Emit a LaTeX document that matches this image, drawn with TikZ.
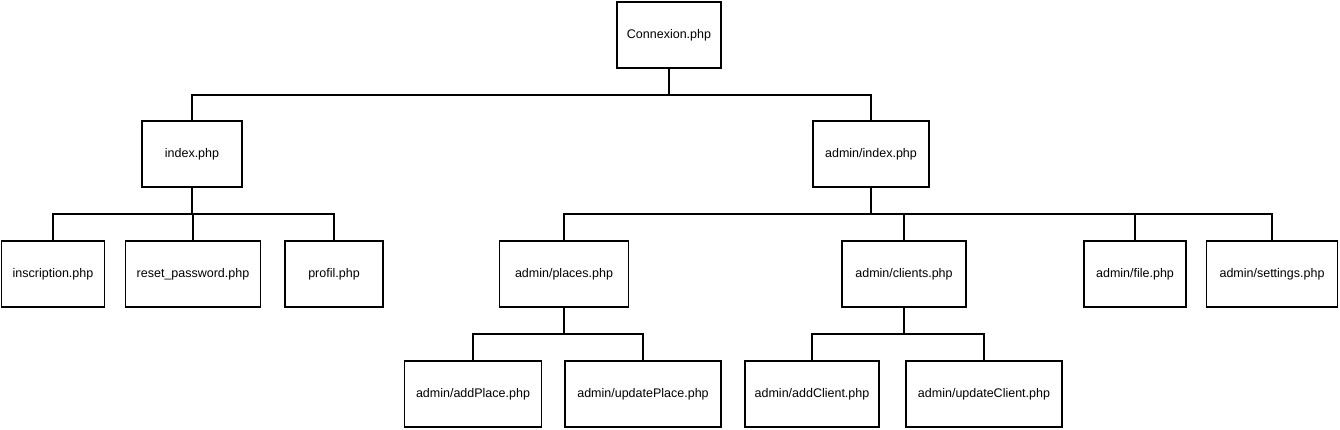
\documentclass[tikz,border=0pt]{standalone}
\usepackage{fontspec}
\setmainfont{Liberation Sans}
\usetikzlibrary{positioning}

\begin{document}
\begin{tikzpicture}[x=1pt,y=-1pt,thick,line width=1.6pt,
  page node/.style={rectangle,draw,fill=white,minimum height=66pt,
  font=\fontsize{12.5}{14}\selectfont,inner sep=0pt}]

  \useasboundingbox (0,0) rectangle (1340,430);

  \node[page node,minimum width=104pt] (con) at (669,35) {Connexion.php};
  \node[page node,minimum width=100pt] (idx) at (192,154) {index.php};
  \node[page node,minimum width=116pt] (adm) at (871,154) {admin/index.php};

  \node[page node,minimum width=103pt] (ins) at (53,274) {inscription.php};
  \node[page node,minimum width=135pt] (rst) at (193,274) {reset\_password.php};
  \node[page node,minimum width=98pt] (prf) at (334,274) {profil.php};

  \node[page node,minimum width=129pt] (plc) at (564,274) {admin/places.php};
  \node[page node,minimum width=124pt] (cli) at (904,274) {admin/clients.php};
  \node[page node,minimum width=102pt] (fil) at (1135,274) {admin/file.php};
  \node[page node,minimum width=131pt] (set) at (1272,274) {admin/settings.php};

  \node[page node,minimum width=137pt] (adp) at (473,394) {admin/addPlace.php};
  \node[page node,minimum width=156pt] (upp) at (643,394) {admin/updatePlace.php};
  \node[page node,minimum width=134pt] (adc) at (812,394) {admin/addClient.php};
  \node[page node,minimum width=156pt] (upc) at (984,394) {admin/updateClient.php};

  % tree links: down from the parent, then across and down to each child
  \foreach \p/\c in {con/idx,con/adm,idx/ins,idx/rst,idx/prf,
                     adm/plc,adm/cli,adm/fil,adm/set,
                     plc/adp,plc/upp,cli/adc,cli/upc}
    \draw (\p.south) -- ++(0,26) -| (\c.north);
\end{tikzpicture}
\end{document}
